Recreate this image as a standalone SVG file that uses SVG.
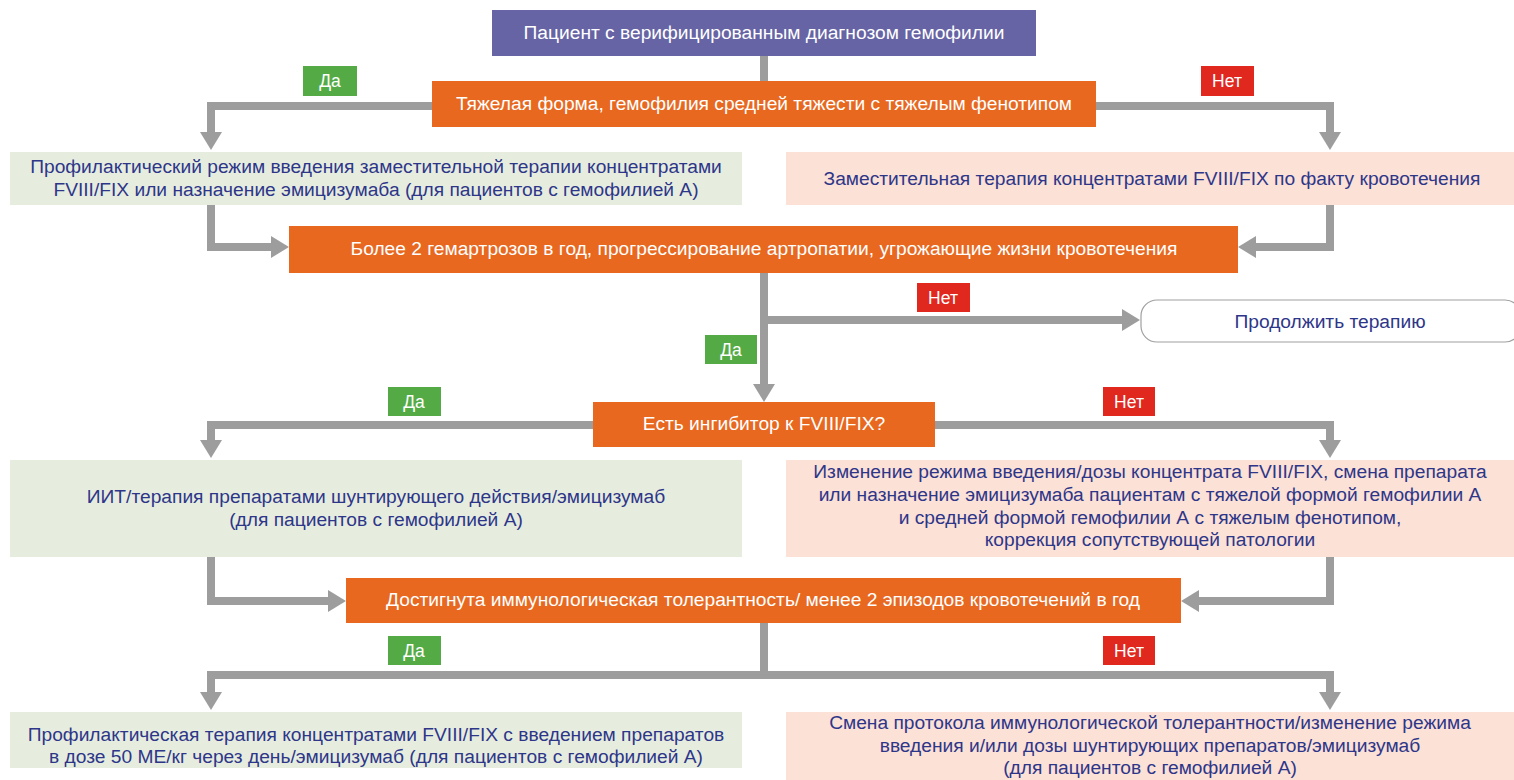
<svg xmlns="http://www.w3.org/2000/svg" width="1514" height="780" viewBox="0 0 1514 780">
<defs>
<marker id="ah" markerUnits="userSpaceOnUse" markerWidth="18" markerHeight="22" refX="0" refY="11" orient="auto">
<path d="M0,0 L18,11 L0,22 z" fill="#9d9d9d"/>
</marker>
</defs>
<style>
text{font-family:"Liberation Sans",Arial,sans-serif;font-size:19.2px;text-anchor:middle}
.w{fill:#ffffff}
.n{fill:#2e3689}
.pur{fill:#6664a4}
.or{fill:#e8681f}
.lg{fill:#e6eddf}
.pk{fill:#fbe1d6}
.yes{fill:#54ab45}
.no{fill:#e0281f}
.c{fill:none;stroke:#9d9d9d;stroke-width:8;stroke-linejoin:miter}
.lbl{font-size:17.5px}
</style>
<rect width="1514" height="780" fill="#ffffff"/>
<g id="connectors">
<path class="c" d="M764,56 V81"/>
<path class="c" d="M432,106 H211 V132" marker-end="url(#ah)"/>
<path class="c" d="M1096,106 H1330 V132" marker-end="url(#ah)"/>
<path class="c" d="M211,205 V247 H271" marker-end="url(#ah)"/>
<path class="c" d="M1330,205 V247 H1256" marker-end="url(#ah)"/>
<path class="c" d="M764,273 V384" marker-end="url(#ah)"/>
<path class="c" d="M764,320 H1122" marker-end="url(#ah)"/>
<path class="c" d="M593,425 H211 V440" marker-end="url(#ah)"/>
<path class="c" d="M935,425 H1330 V440" marker-end="url(#ah)"/>
<path class="c" d="M211,557 V601 H328" marker-end="url(#ah)"/>
<path class="c" d="M1330,557 V601 H1199" marker-end="url(#ah)"/>
<path class="c" d="M764,623 V675 H211 V692" marker-end="url(#ah)"/>
<path class="c" d="M764,675 H1330 V692" marker-end="url(#ah)"/>
</g>
<g id="labels">
<g id="l1"><rect class="yes" x="303" y="66" width="54" height="30"/><text class="w lbl" x="330" y="87">Да</text></g>
<g id="l2"><rect class="no" x="1201" y="66" width="53" height="30"/><text class="w lbl" x="1227" y="87">Нет</text></g>
<g id="l3"><rect class="no" x="917" y="283" width="53" height="29"/><text class="w lbl" x="943" y="304">Нет</text></g>
<g id="l4"><rect class="yes" x="705" y="335" width="52" height="29"/><text class="w lbl" x="731" y="356">Да</text></g>
<g id="l5"><rect class="yes" x="388" y="387" width="53" height="29"/><text class="w lbl" x="414" y="408">Да</text></g>
<g id="l6"><rect class="no" x="1103" y="387" width="52" height="29"/><text class="w lbl" x="1129" y="408">Нет</text></g>
<g id="l7"><rect class="yes" x="388" y="636" width="53" height="29"/><text class="w lbl" x="414" y="657">Да</text></g>
<g id="l8"><rect class="no" x="1103" y="636" width="52" height="29"/><text class="w lbl" x="1129" y="657">Нет</text></g>
</g>
<g id="n1"><rect class="pur" x="492" y="10" width="544" height="46"/><text class="w" x="764" y="39">Пациент с верифицированным диагнозом гемофилии</text></g>
<g id="n2"><rect class="or" x="432" y="81" width="664" height="46"/><text class="w" x="764" y="110">Тяжелая форма, гемофилия средней тяжести с тяжелым фенотипом</text></g>
<g id="n3"><rect class="lg" x="10" y="152" width="732" height="53"/>
<text class="n" x="376" y="173">Профилактический режим введения заместительной терапии концентратами</text>
<text class="n" x="376" y="196">FVIII/FIX или назначение эмицизумаба (для пациентов с гемофилией А)</text></g>
<g id="n4"><rect class="pk" x="786" y="152" width="728" height="53"/><text class="n" x="1152" y="185">Заместительная терапия концентратами FVIII/FIX по факту кровотечения</text></g>
<g id="n5"><rect class="or" x="289" y="226" width="949" height="47"/><text class="w" x="764" y="255">Более 2 гемартрозов в год, прогрессирование артропатии, угрожающие жизни кровотечения</text></g>
<g id="n6"><rect x="1141" y="300" width="380" height="42" rx="16" ry="16" fill="#ffffff" stroke="#a0a0a0" stroke-width="1.2"/><text class="n" x="1330" y="328">Продолжить терапию</text></g>
<g id="n7"><rect class="or" x="593" y="402" width="342" height="45"/><text class="w" x="764" y="430">Есть ингибитор к FVIII/FIX?</text></g>
<g id="n8"><rect class="lg" x="10" y="460" width="732" height="97"/>
<text class="n" x="376" y="503">ИИТ/терапия препаратами шунтирующего действия/эмицизумаб</text>
<text class="n" x="376" y="526">(для пациентов с гемофилией А)</text></g>
<g id="n9"><rect class="pk" x="786" y="460" width="728" height="97"/>
<text class="n" x="1150" y="478">Изменение режима введения/дозы концентрата FVIII/FIX, смена препарата</text>
<text class="n" x="1150" y="501">или назначение эмицизумаба пациентам с тяжелой формой гемофилии А</text>
<text class="n" x="1150" y="524">и средней формой гемофилии А с тяжелым фенотипом,</text>
<text class="n" x="1150" y="546">коррекция сопутствующей патологии</text></g>
<g id="n10"><rect class="or" x="346" y="578" width="835" height="45"/><text class="w" x="763" y="606">Достигнута иммунологическая толерантность/ менее 2 эпизодов кровотечений в год</text></g>
<g id="n11"><rect class="lg" x="10" y="712" width="732" height="56"/>
<text class="n" x="376" y="741">Профилактическая терапия концентратами FVIII/FIX с введением препаратов</text>
<text class="n" x="376" y="763">в дозе 50 МЕ/кг через день/эмицизумаб (для пациентов с гемофилией А)</text></g>
<g id="n12"><rect class="pk" x="786" y="712" width="728" height="68"/>
<text class="n" x="1150" y="729">Смена протокола иммунологической толерантности/изменение режима</text>
<text class="n" x="1150" y="752">введения и/или дозы шунтирующих препаратов/эмицизумаб</text>
<text class="n" x="1150" y="774">(для пациентов с гемофилией А)</text></g>
</svg>
